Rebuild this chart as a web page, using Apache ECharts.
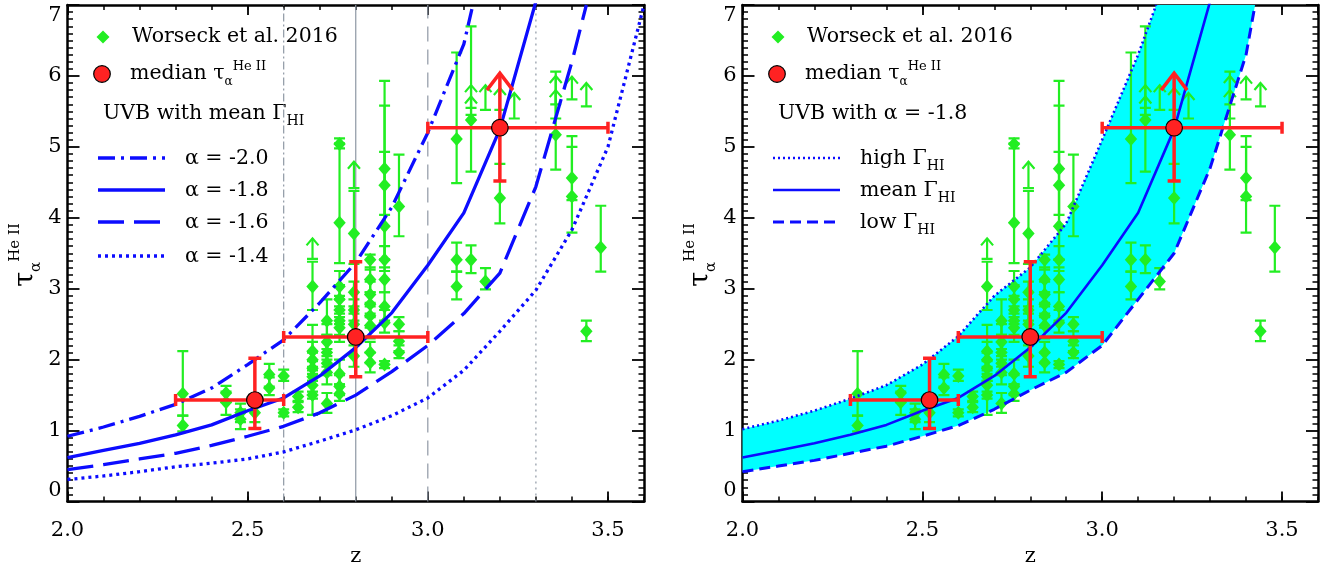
<!DOCTYPE html>
<html>
<head>
<meta charset="utf-8">
<title>tau HeII vs z</title>
<script src="https://cdn.jsdelivr.net/npm/echarts@6.0.0/dist/echarts.min.js"></script>
<style>
  html, body { margin: 0; padding: 0; background: #fff; }
  #chart { width: 1343px; height: 565px; }
</style>
</head>
<body>
<div id="chart"></div>
<script>
// Worseck et al. 2016 sightlines: redshift, tau, lower / upper end of error bar
const obsZ = [2.32, 2.32, 2.44, 2.44, 2.48, 2.48, 2.52, 2.56, 2.56, 2.60, 2.60, 2.64, 2.64,
  2.68, 2.68, 2.68, 2.68, 2.68, 2.68, 2.68, 2.72, 2.72, 2.72, 2.72, 2.72, 2.72,
  2.755, 2.755, 2.755, 2.755, 2.755, 2.755, 2.755, 2.755, 2.755, 2.755,
  2.795, 2.795, 2.795, 2.795, 2.795, 2.84, 2.84, 2.84, 2.84, 2.84, 2.84, 2.84, 2.84,
  2.88, 2.88, 2.88, 2.88, 2.88, 2.88, 2.88, 2.88, 2.92, 2.92, 2.92, 2.92,
  3.08, 3.08, 3.08, 3.12, 3.12, 3.16, 3.20, 3.355, 3.40, 3.40, 3.44, 3.48];
const obsTau = [1.52, 1.07, 1.53, 1.40, 1.25, 1.16, 1.25, 1.79, 1.60, 1.77, 1.25, 1.48, 1.33,
  3.03, 2.12, 2.00, 1.88, 1.76, 1.64, 1.50, 2.55, 2.25, 2.10, 1.95, 1.82, 1.38,
  5.04, 3.93, 3.03, 2.85, 2.70, 2.55, 2.45, 1.80, 1.62, 1.52,
  3.78, 2.95, 2.70, 2.50, 2.05, 3.41, 3.13, 2.92, 2.78, 2.62, 2.48, 2.10, 1.96,
  4.69, 4.46, 3.88, 3.41, 3.13, 2.75, 2.52, 1.93, 4.16, 2.50, 2.26, 2.10,
  5.11, 3.41, 3.03, 5.38, 3.41, 3.10, 4.28, 5.17, 4.56, 4.30, 2.40, 3.58];
const obsLo = [1.21, 0.99, 1.40, 1.22, 1.12, 1.02, 1.12, 1.62, 1.50, 1.70, 1.20, 1.40, 1.26,
  2.70, 1.90, 1.80, 1.70, 1.55, 1.45, 1.22, 2.35, 2.05, 1.90, 1.78, 1.65, 1.25,
  4.98, 3.36, 2.85, 2.65, 2.50, 2.35, 2.25, 1.65, 1.50, 1.42,
  3.35, 2.75, 2.55, 2.35, 1.90, 3.27, 2.95, 2.75, 2.60, 2.45, 2.30, 1.95, 1.82,
  4.04, 3.41, 3.41, 3.25, 2.95, 2.55, 2.38, 1.88, 3.74, 2.40, 2.12, 2.02,
  4.49, 3.24, 2.85, 4.65, 3.22, 2.99, 3.92, 4.68, 4.25, 3.79, 2.26, 3.24];
const obsHi = [2.12, 1.21, 1.63, 1.55, 1.38, 1.30, 1.40, 1.94, 1.75, 1.86, 1.30, 1.55, 1.42,
  3.38, 2.49, 2.25, 2.10, 1.98, 1.85, 1.70, 2.85, 2.50, 2.35, 2.15, 2.00, 1.53,
  5.12, 5.05, 3.25, 3.05, 2.90, 2.75, 2.60, 2.00, 1.78, 1.65,
  4.38, 3.10, 2.85, 2.65, 2.20, 3.48, 3.30, 3.10, 2.95, 2.80, 2.65, 2.25, 2.10,
  5.58, 5.93, 4.93, 3.60, 3.30, 2.95, 2.70, 1.98, 4.89, 2.60, 2.40, 2.20,
  6.33, 3.65, 3.24, 6.70, 3.61, 3.29, 4.76, 6.06, 5.15, 5.00, 2.55, 4.17];

// lower limits: value and tip of the arrow
const limZ = [2.68, 2.795, 3.12, 3.12, 3.16, 3.20, 3.24, 3.355, 3.355, 3.40, 3.44];
const limTau = [3.42, 4.42, 5.55, 5.45, 5.52, 5.52, 5.40, 5.60, 5.40, 5.67, 5.57];
const limTip = [3.71, 4.79, 5.87, 5.71, 5.87, 5.83, 5.76, 6.00, 5.80, 5.99, 5.90];

// medians in z bins
const medZ = [2.52, 2.80, 3.20];
const medTau = [1.43, 2.32, 5.27];
const medZLo = [2.30, 2.60, 3.00];
const medZHi = [2.60, 3.00, 3.50];
const medLo = [1.03, 1.76, 4.52];
const medHi = [2.02, 3.38, 6.04];
const medIsLimit = [false, false, true];

// models, mean Gamma_HI with different alpha
const zA20 = [2.0, 2.1, 2.2, 2.3, 2.4, 2.5, 2.6, 2.7, 2.8, 2.9, 3.0, 3.1, 3.125];
const tauA20 = [0.92, 1.05, 1.20, 1.37, 1.60, 1.93, 2.28, 2.80, 3.37, 4.15, 5.20, 6.45, 7.0];
const zA18 = [2.0, 2.1, 2.2, 2.3, 2.4, 2.5, 2.6, 2.7, 2.8, 2.9, 3.0, 3.1, 3.2, 3.3];
const tauA18 = [0.62, 0.72, 0.82, 0.94, 1.08, 1.28, 1.46, 1.77, 2.17, 2.66, 3.33, 4.07, 5.25, 7.05];
const zA16 = [2.0, 2.1, 2.2, 2.3, 2.4, 2.5, 2.6, 2.7, 2.8, 2.9, 3.0, 3.1, 3.2, 3.3, 3.4, 3.44];
const tauA16 = [0.45, 0.52, 0.60, 0.68, 0.79, 0.92, 1.06, 1.25, 1.50, 1.83, 2.20, 2.65, 3.22, 4.44, 6.20, 7.0];
const zA14 = [2.0, 2.1, 2.2, 2.3, 2.4, 2.5, 2.6, 2.7, 2.8, 2.9, 3.0, 3.1, 3.2, 3.3, 3.4, 3.5, 3.6];
const tauA14 = [0.31, 0.36, 0.42, 0.49, 0.54, 0.60, 0.70, 0.85, 1.01, 1.21, 1.46, 1.85, 2.40, 2.98, 3.83, 5.00, 7.0];

// models, alpha = -1.8 with high / low Gamma_HI (mean is tauA18)
const zHigh = [2.0, 2.1, 2.2, 2.3, 2.4, 2.5, 2.6, 2.7, 2.8, 2.9, 3.0, 3.1, 3.15];
const tauHigh = [1.02, 1.14, 1.28, 1.45, 1.64, 1.93, 2.33, 2.90, 3.30, 3.92, 5.10, 6.30, 7.0];
const zLow = [2.0, 2.1, 2.2, 2.3, 2.4, 2.5, 2.6, 2.7, 2.8, 2.9, 3.0, 3.1, 3.2, 3.3, 3.4, 3.425];
const tauLow = [0.42, 0.50, 0.58, 0.68, 0.78, 0.92, 1.07, 1.30, 1.57, 1.82, 2.20, 2.85, 3.50, 4.70, 6.30, 7.0];

// bin edges / centre drawn in the left panel
const binZ = [2.6, 2.8, 3.0, 3.3];

const GREEN = '#22ee22', BLUE = '#0c0cff', RED = '#ff2222', CYAN = '#00ffff', GRAY = '#8e97a4';
const FONT = 'DejaVu Serif';
const DASHDOT = [17, 6, 3, 6], LONGDASH = [26, 10], DOTTED = [3, 4];
const HIGHDOT = [2, 3], LOWDASH = [11, 6];
const binDash = [[8, 3, 2, 3], 'solid', [15, 8], [2, 4]];

const chart = echarts.init(document.getElementById('chart'), null, { renderer: 'canvas' });

function xAxes(gi) {
  const base = { gridIndex: gi, type: 'value', min: 2.0, max: 3.6, splitLine: { show: false } };
  const line = { show: true, onZero: false, lineStyle: { color: '#000', width: 2.5 } };
  const major = { show: true, inside: true, length: 10, lineStyle: { color: '#000', width: 1.8 } };
  const minor = { show: true, inside: true, length: 5, lineStyle: { color: '#000', width: 1.5 } };
  return [
    Object.assign({}, base, {
      position: 'bottom', interval: 0.5, axisLine: line, axisTick: major,
      axisLabel: { show: true, margin: 19, fontFamily: FONT, fontSize: 21, color: '#000',
        showMaxLabel: false, formatter: v => v.toFixed(1) },
      name: 'z', nameLocation: 'middle', nameGap: 42,
      nameTextStyle: { fontFamily: FONT, fontSize: 21, color: '#000' }
    }),
    Object.assign({}, base, { position: 'bottom', interval: 0.1, axisLine: { show: false, onZero: false },
      axisTick: minor, axisLabel: { show: false } }),
    Object.assign({}, base, { position: 'top', interval: 0.5, axisLine: line, axisTick: major,
      axisLabel: { show: false } }),
    Object.assign({}, base, { position: 'top', interval: 0.1, axisLine: { show: false, onZero: false },
      axisTick: minor, axisLabel: { show: false } })
  ];
}

function yAxes(gi) {
  const base = {
    gridIndex: gi, type: 'value', min: 0, max: 7, interval: 1, splitLine: { show: false },
    axisLine: { show: true, onZero: false, lineStyle: { color: '#000', width: 2.5 } },
    axisTick: { show: true, inside: true, length: 12, lineStyle: { color: '#000', width: 1.8 } },
    minorTick: { show: true, splitNumber: 10, length: 5.5, lineStyle: { color: '#000', width: 1.5 } }
  };
  return [
    Object.assign({}, base, { position: 'left',
      axisLabel: { show: true, margin: 6, fontFamily: FONT, fontSize: 21, color: '#000',
        verticalAlignMinLabel: 'bottom', verticalAlignMaxLabel: 'top' } }),
    Object.assign({}, base, { position: 'right', axisLabel: { show: false } })
  ];
}

function curve(zs, ts, dash, width, xi, yi) {
  return {
    type: 'line', xAxisIndex: xi, yAxisIndex: yi, z: 3, silent: true, clip: true,
    data: zs.map((z, i) => [z, ts[i]]), showSymbol: false, symbol: 'none',
    lineStyle: { color: BLUE, width: width, type: dash, cap: 'butt' }
  };
}

function obsSeries(xi, yi) {
  return {
    type: 'custom', xAxisIndex: xi, yAxisIndex: yi, z: 2, silent: true, clip: true,
    data: obsZ.map((z, i) => [z, obsTau[i], obsLo[i], obsHi[i]]),
    encode: { x: 0, y: 1 },
    renderItem: function (params, api) {
      const c = api.coord([api.value(0), api.value(1)]);
      const lo = api.coord([api.value(0), api.value(2)])[1];
      const hi = api.coord([api.value(0), api.value(3)])[1];
      const st = { stroke: GREEN, lineWidth: 2.2 };
      return { type: 'group', children: [
        { type: 'line', shape: { x1: c[0], y1: lo, x2: c[0], y2: hi }, style: st },
        { type: 'line', shape: { x1: c[0] - 5.5, y1: lo, x2: c[0] + 5.5, y2: lo }, style: st },
        { type: 'line', shape: { x1: c[0] - 5.5, y1: hi, x2: c[0] + 5.5, y2: hi }, style: st },
        { type: 'polygon', shape: { points: [[c[0], c[1] - 7], [c[0] + 6.2, c[1]], [c[0], c[1] + 7], [c[0] - 6.2, c[1]]] },
          style: { fill: GREEN } }
      ] };
    }
  };
}

function limSeries(xi, yi) {
  return {
    type: 'custom', xAxisIndex: xi, yAxisIndex: yi, z: 2, silent: true, clip: true,
    data: limZ.map((z, i) => [z, limTau[i], limTip[i]]),
    encode: { x: 0, y: 1 },
    renderItem: function (params, api) {
      const b = api.coord([api.value(0), api.value(1)]);
      const t = api.coord([api.value(0), api.value(2)])[1];
      const st = { stroke: GREEN, lineWidth: 2.2, fill: 'none' };
      return { type: 'group', children: [
        { type: 'line', shape: { x1: b[0] - 5.5, y1: b[1], x2: b[0] + 5.5, y2: b[1] }, style: st },
        { type: 'line', shape: { x1: b[0], y1: b[1], x2: b[0], y2: t }, style: st },
        { type: 'polyline', shape: { points: [[b[0] - 6, t + 7], [b[0], t], [b[0] + 6, t + 7]] }, style: st }
      ] };
    }
  };
}

function medSeries(xi, yi) {
  return {
    type: 'custom', xAxisIndex: xi, yAxisIndex: yi, z: 4, silent: true, clip: true,
    data: medZ.map((z, i) => [z, medTau[i], medZLo[i], medZHi[i], medLo[i], medHi[i], medIsLimit[i] ? 1 : 0]),
    encode: { x: 0, y: 1 },
    renderItem: function (params, api) {
      const z = api.value(0), t = api.value(1);
      const c = api.coord([z, t]);
      const xl = api.coord([api.value(2), t])[0];
      const xh = api.coord([api.value(3), t])[0];
      const yl = api.coord([z, api.value(4)])[1];
      const yh = api.coord([z, api.value(5)])[1];
      const st = { stroke: RED, lineWidth: 3.5, fill: 'none' };
      const kids = [
        { type: 'line', shape: { x1: xl, y1: c[1], x2: xh, y2: c[1] }, style: st },
        { type: 'line', shape: { x1: xl, y1: c[1] - 6, x2: xl, y2: c[1] + 6 }, style: st },
        { type: 'line', shape: { x1: xh, y1: c[1] - 6, x2: xh, y2: c[1] + 6 }, style: st },
        { type: 'line', shape: { x1: c[0], y1: yl, x2: c[0], y2: yh }, style: st },
        { type: 'line', shape: { x1: c[0] - 6.5, y1: yl, x2: c[0] + 6.5, y2: yl }, style: st }
      ];
      if (api.value(6)) {
        kids.push({ type: 'polyline', shape: { points: [[c[0] - 13, yh + 17], [c[0], yh], [c[0] + 13, yh + 17]] }, style: st });
      } else {
        kids.push({ type: 'line', shape: { x1: c[0] - 6.5, y1: yh, x2: c[0] + 6.5, y2: yh }, style: st });
      }
      kids.push({ type: 'circle', shape: { cx: c[0], cy: c[1], r: 8.3 }, style: { fill: RED, stroke: '#000', lineWidth: 1.2 } });
      return { type: 'group', children: kids };
    }
  };
}

function bandSeries(xi, yi) {
  return {
    type: 'custom', xAxisIndex: xi, yAxisIndex: yi, z: 1, silent: true, clip: true,
    data: [[zLow[0], tauLow[0]]],
    encode: { x: 0, y: 1 },
    renderItem: function (params, api) {
      const lower = zLow.map((z, i) => api.coord([z, tauLow[i]]));
      const upper = zHigh.map((z, i) => api.coord([z, tauHigh[i]])).reverse();
      return { type: 'polygon', shape: { points: lower.concat(upper) }, style: { fill: CYAN } };
    }
  };
}

function binSeries() {
  return binZ.map((z, i) => ({
    type: 'line', xAxisIndex: 0, yAxisIndex: 0, z: 1, silent: true,
    data: [[z, 0], [z, 7]], showSymbol: false, symbol: 'none',
    lineStyle: { color: GRAY, width: 1.2, type: binDash[i] }
  }));
}

// legend and axis title, drawn as graphic elements
const rich = {
  sub: { fontFamily: FONT, fontSize: 12, lineHeight: 12, verticalAlign: 'bottom' },
  sup: { fontFamily: FONT, fontSize: 13, lineHeight: 13, verticalAlign: 'top' },
  hi: { fontFamily: FONT, fontSize: 14, lineHeight: 14, verticalAlign: 'bottom' }
};
function label(x, y, text) {
  return { type: 'text', x: x, y: y, silent: true,
    style: { text: text, fontFamily: FONT, fontSize: 20.5, lineHeight: 28, fill: '#000',
      textAlign: 'left', textVerticalAlign: 'middle', align: 'left', verticalAlign: 'middle', rich: rich } };
}
function legend(dx, heading, rows) {
  const els = [
    { type: 'polygon', silent: true, shape: { points: [[103 + dx, 30.5], [109.5 + dx, 37], [103 + dx, 43.5], [96.5 + dx, 37]] }, style: { fill: GREEN } },
    label(132 + dx, 37, 'Worseck et al. 2016'),
    { type: 'circle', silent: true, shape: { cx: 102 + dx, cy: 74, r: 8.3 }, style: { fill: RED, stroke: '#000', lineWidth: 1.2 } },
    label(130 + dx, 74, 'median τ{sub|α}{sup|He II}'),
    label(103 + dx, 114, heading)
  ];
  const ys = [158, 190, 222, 256];
  rows.forEach((r, i) => {
    els.push({ type: 'line', silent: true, shape: { x1: 98 + dx, y1: ys[i], x2: 165 + dx, y2: ys[i] },
      style: { stroke: BLUE, lineWidth: r.w, lineDash: r.dash === 'solid' ? null : r.dash } });
    els.push(label(185 + dx, ys[i] + 1, r.text));
  });
  els.push({ type: 'text', x: 26 + dx, y: 255, rotation: Math.PI / 2, silent: true,
    style: { text: '{t|τ}{s|α}{p|He II}', fill: '#000', textAlign: 'center', textVerticalAlign: 'middle',
      align: 'center', verticalAlign: 'middle',
      rich: {
        t: { fontFamily: FONT, fontSize: 27, lineHeight: 36 },
        s: { fontFamily: FONT, fontSize: 15, lineHeight: 15, verticalAlign: 'bottom' },
        p: { fontFamily: FONT, fontSize: 15, lineHeight: 15, verticalAlign: 'top' }
      } } });
  return els;
}

const DX = 675;
const graphics = legend(0, 'UVB with mean Γ{hi|HI}', [
  { dash: DASHDOT, w: 3.3, text: 'α = -2.0' },
  { dash: 'solid', w: 3.3, text: 'α = -1.8' },
  { dash: LONGDASH, w: 3.3, text: 'α = -1.6' },
  { dash: DOTTED, w: 3.3, text: 'α = -1.4' }
]).concat(legend(DX, 'UVB with α = -1.8', [
  { dash: HIGHDOT, w: 2.6, text: 'high Γ{hi|HI}' },
  { dash: 'solid', w: 2.6, text: 'mean Γ{hi|HI}' },
  { dash: LOWDASH, w: 3, text: 'low Γ{hi|HI}' }
]));

const option = {
  animation: false,
  backgroundColor: '#fff',
  grid: [
    { left: 67.5, top: 5, right: 699, bottom: 63.5, containLabel: false, outerBoundsMode: 'none' },
    { left: 742.5, top: 5, right: 25, bottom: 63.5, containLabel: false, outerBoundsMode: 'none' }
  ],
  xAxis: xAxes(0).concat(xAxes(1)),
  yAxis: yAxes(0).concat(yAxes(1)),
  graphic: graphics,
  series: [].concat(
    binSeries(),
    [obsSeries(0, 0), limSeries(0, 0),
      curve(zA20, tauA20, DASHDOT, 3.3, 0, 0),
      curve(zA18, tauA18, 'solid', 3.3, 0, 0),
      curve(zA16, tauA16, LONGDASH, 3.3, 0, 0),
      curve(zA14, tauA14, DOTTED, 3.3, 0, 0),
      medSeries(0, 0)],
    [bandSeries(4, 2), obsSeries(4, 2), limSeries(4, 2),
      curve(zHigh, tauHigh, HIGHDOT, 2.6, 4, 2),
      curve(zA18, tauA18, 'solid', 2.6, 4, 2),
      curve(zLow, tauLow, LOWDASH, 3, 4, 2),
      medSeries(4, 2)]
  )
};

chart.setOption(option);
</script>
</body>
</html>
